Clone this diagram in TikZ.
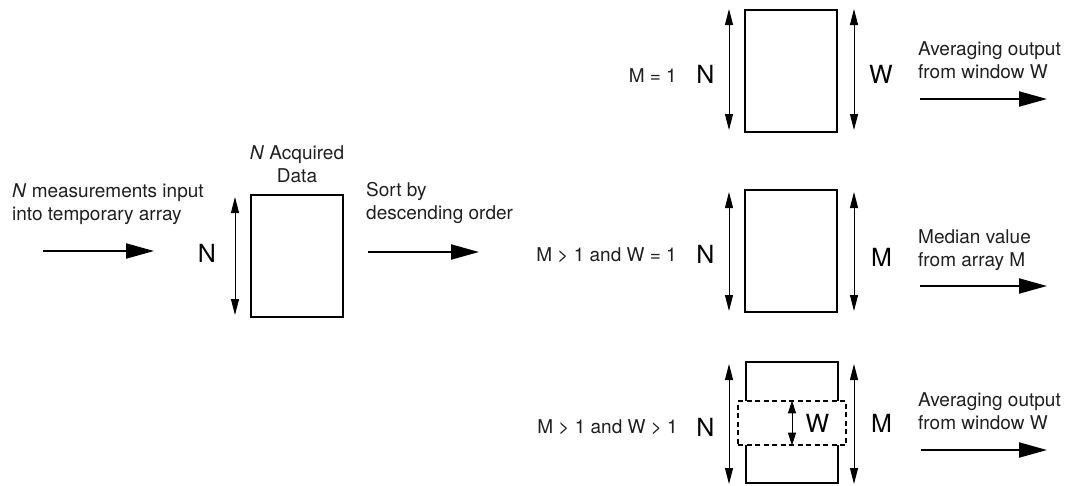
\documentclass[tikz,border=0pt]{standalone}
\usepackage{fontspec}
\setmainfont{TeX Gyre Heros}
\usetikzlibrary{arrows.meta}
\begin{document}
\begin{tikzpicture}[x=1pt,y=-1pt,
  small/.style={font=\fontsize{19}{23}\selectfont, inner sep=0pt, text=black!88},
  big/.style={font=\fontsize{25}{30}\selectfont, inner sep=0pt},
  databox/.style={draw, line width=2pt, minimum width=92pt, minimum height=122pt, inner sep=0pt},
  boxline/.style={line width=2pt},
  window/.style={draw, line width=1.2pt, dash pattern=on 5pt off 3.5pt, minimum width=108pt, minimum height=44pt, inner sep=0pt},
  flow/.style={line width=2pt, -{Triangle[length=28pt,width=15pt]}},
  dim/.style={line width=1pt, {Triangle[length=16pt,width=8pt]}-{Triangle[length=16pt,width=8pt]}},
  smalldim/.style={line width=1pt, {Triangle[length=13pt,width=8pt]}-{Triangle[length=13pt,width=8pt]}}
]
\useasboundingbox (0,0) rectangle (1069,485);

% ---------- left part ----------
\node[small, anchor=north west, align=left] (intext) at (12,183) {\textit{N} measurements input\\into temporary array};
\coordinate (in0) at (43,251);
\coordinate (in1) at (154,251);
\draw[flow] (in0) -- (in1);

\node[big, anchor=base] (nleft) at (207,262) {N};
\node[databox] (box1) at (297,256) {};
\node[small, anchor=north, align=center] (acq) at (297,145) {\textit{N} Acquired\\Data};
\coordinate (d1a) at (235,197);
\coordinate (d1b) at (235,315);
\draw[dim] (d1a) -- (d1b);

\node[small, anchor=north west, align=left] (sorttext) at (366,182) {Sort by\\descending order};
\coordinate (s0) at (368,252);
\coordinate (s1) at (479,252);
\draw[flow] (s0) -- (s1);

% ---------- top right: M = 1 ----------
\node[small, anchor=base east] (c1) at (677,82) {M = 1};
\node[big, anchor=base] (nA) at (705.5,83) {N};
\node[databox] (boxA) at (791,71) {};
\coordinate (dAl0) at (729,9);
\coordinate (dAl1) at (729,130);
\draw[dim] (dAl0) -- (dAl1);
\coordinate (dAr0) at (854,9);
\coordinate (dAr1) at (854,130);
\draw[dim] (dAr0) -- (dAr1);
\node[big, anchor=base] (wA) at (881,83) {W};
\node[small, anchor=north west, align=left] (outA) at (918,41) {Averaging output\\from window W};
\coordinate (oA0) at (920,99);
\coordinate (oA1) at (1047,99);
\draw[flow] (oA0) -- (oA1);

% ---------- middle right: M > 1 and W = 1 ----------
\node[small, anchor=base east] (c2) at (677,261) {M > 1 and W = 1};
\node[big, anchor=base] (nB) at (705.5,263) {N};
\node[databox] (boxB) at (791,251) {};
\coordinate (dBl0) at (729,192);
\coordinate (dBl1) at (729,311);
\draw[dim] (dBl0) -- (dBl1);
\coordinate (dBr0) at (854,192);
\coordinate (dBr1) at (854,311);
\draw[dim] (dBr0) -- (dBr1);
\node[big, anchor=base] (mB) at (881.5,266) {M};
\node[small, anchor=north west, align=left] (outB) at (918,229) {Median value\\from array M};
\coordinate (oB0) at (920,286);
\coordinate (oB1) at (1047,286);
\draw[flow] (oB0) -- (oB1);

% ---------- bottom right: M > 1 and W > 1 ----------
\node[small, anchor=base east] (c3) at (678,433) {M > 1 and W > 1};
\node[big, anchor=base] (nC) at (705.5,436) {N};
\node[window] (win) at (792,423) {};
\draw[boxline] (746,401) -- (746,362) -- (838,362) -- (838,401);
\draw[boxline] (746,445) -- (746,483) -- (838,483) -- (838,445);
\draw[smalldim] (win.north) -- (win.south);
\node[big, anchor=base] (wC) at (817.5,432) {W};
\coordinate (dCl0) at (729,364);
\coordinate (dCl1) at (729,484);
\draw[dim] (dCl0) -- (dCl1);
\coordinate (dCr0) at (854,364);
\coordinate (dCr1) at (854,484);
\draw[dim] (dCr0) -- (dCr1);
\node[big, anchor=base] (mC) at (881.5,432) {M};
\node[small, anchor=north west, align=left] (outC) at (918,392) {Averaging output\\from window W};
\coordinate (oC0) at (921,450);
\coordinate (oC1) at (1047,450);
\draw[flow] (oC0) -- (oC1);
\end{tikzpicture}
\end{document}
